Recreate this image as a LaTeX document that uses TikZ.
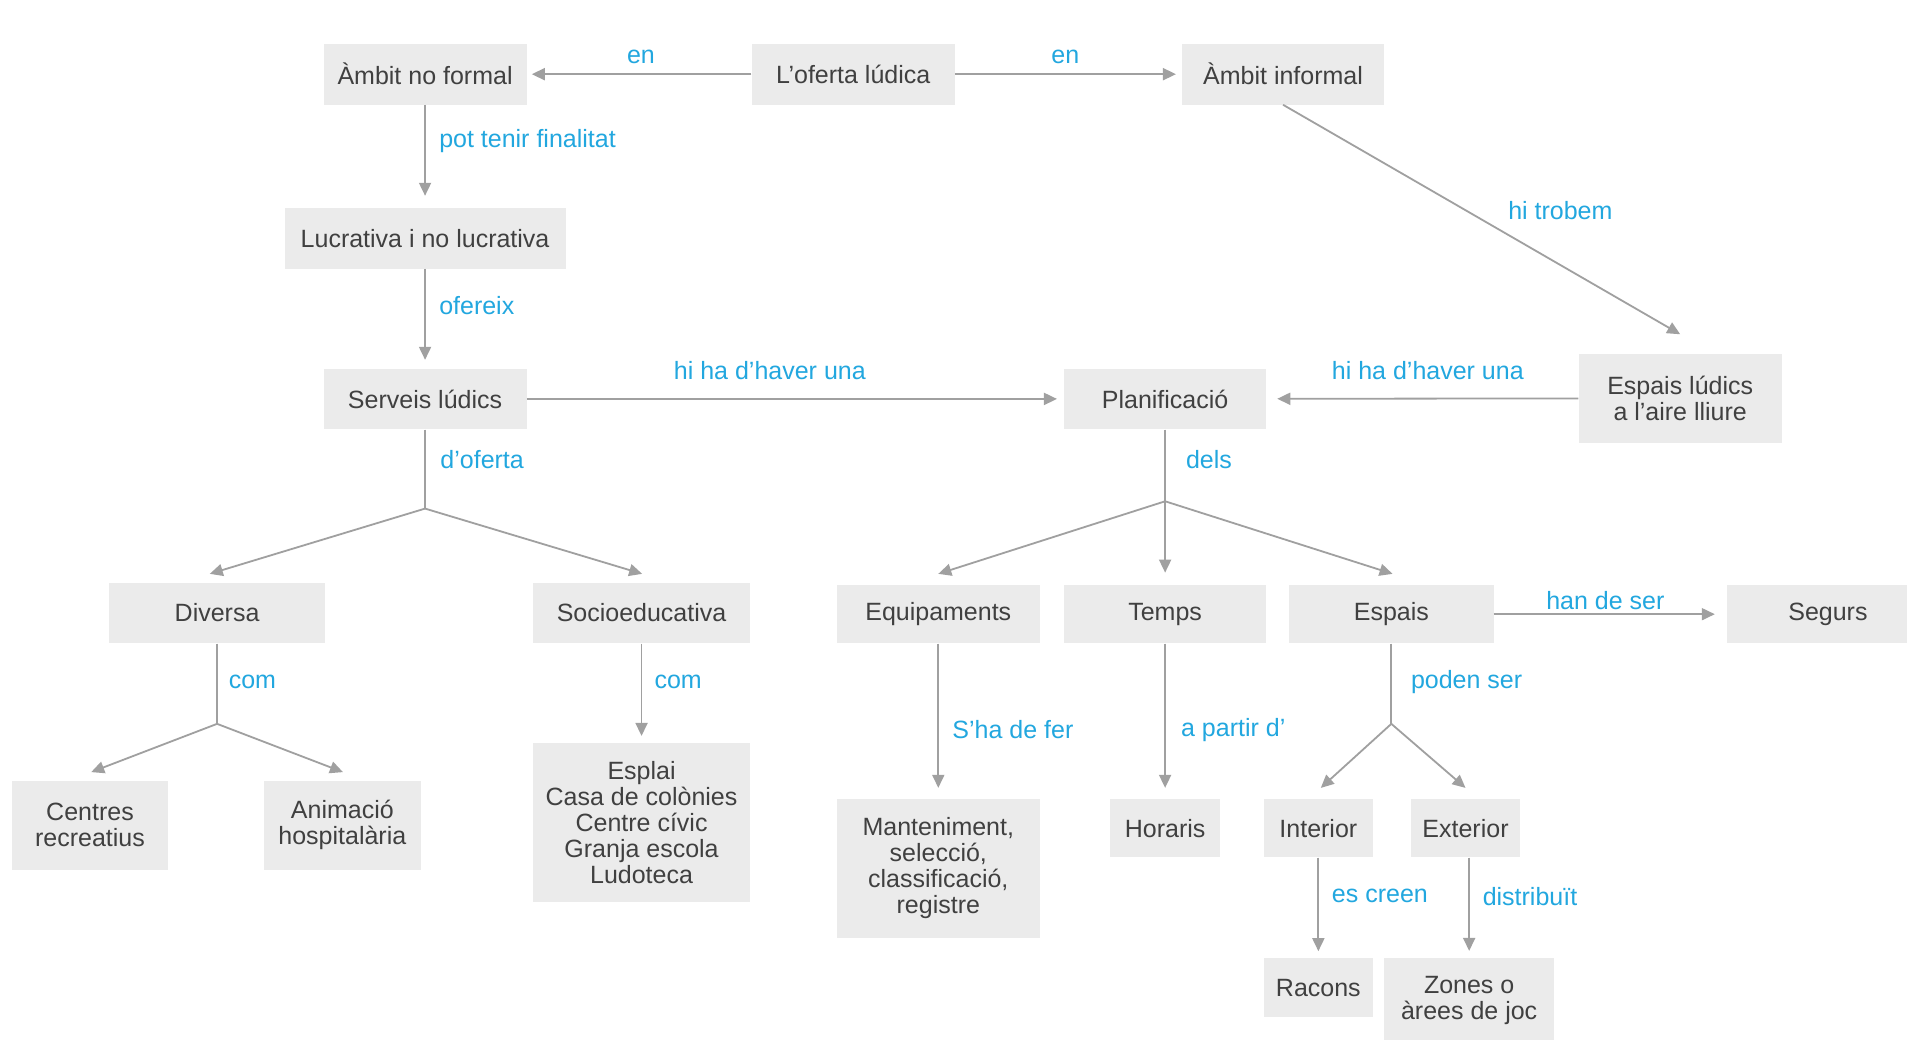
\documentclass[tikz,border=0pt]{standalone}
\usepackage{fontspec}
\setmainfont{Liberation Sans}
\usetikzlibrary{arrows.meta,calc}
\definecolor{boxfill}{HTML}{EBEBEB}
\definecolor{boxtext}{HTML}{404040}
\definecolor{lblcol}{HTML}{22A7DF}
\definecolor{linecol}{HTML}{A0A0A0}
\begin{document}
\begin{tikzpicture}[x=1.2162pt,y=-1.2162pt,
 bx/.style 2 args={fill=boxfill, text=boxtext, inner sep=0pt, minimum width=#1*1.2162pt, minimum height=#2*1.2162pt, align=center, font=\fontsize{25}{26}\selectfont},
 lbl/.style={text=lblcol, inner sep=0pt, font=\fontsize{25}{26}\selectfont},
 conn/.style={draw=linecol, line width=1.8pt},
 arr/.style={conn, -{Triangle[length=13pt,width=12pt]}, color=linecol}]
\fill[white] (0,0) rectangle (1568,855);
\useasboundingbox (0,0) rectangle (1568,855);

% nodes
\node[bx={167}{50}] (nf) at (349.5,61) {Àmbit no formal};
\node[bx={167}{50}] (of) at (701.5,61) {L’oferta lúdica};
\node[bx={166}{50}] (inf) at (1055,61) {Àmbit informal};
\node[bx={231}{50}] (luc) at (349.5,196) {Lucrativa i no lucrativa};
\node[bx={167}{50}] (serv) at (349.5,328) {Serveis lúdics};
\node[bx={166}{50}] (plan) at (958,328) {Planificació};
\node[bx={167}{73}] (lud) at (1381.5,327.5) {Espais lúdics\\a l’aire lliure};
\node[bx={177}{50}] (div) at (178.5,504) {Diversa};
\node[bx={179}{50}] (soc) at (527.5,504) {Socioeducativa};
\node[bx={167}{48}] (equ) at (771.5,505) {Equipaments};
\node[bx={166}{48}] (tmp) at (958,505) {Temps};
\node[bx={168}{48}] (esp) at (1144,505) {Espais};
\node[bx={166}{48}] (seg) at (1503,505) {Segurs};
\node[bx={128}{73}] (cen) at (74,678.5) {Centres\\recreatius};
\node[bx={129}{73}] (ani) at (281.5,678.5) {Animació\\hospitalària};
\node[bx={179}{131}] (esl) at (527.5,676.5) {Esplai\\Casa de colònies\\Centre cívic\\Granja escola\\Ludoteca};
\node[bx={167}{114}] (man) at (771.5,714) {Manteniment,\\selecció,\\classificació,\\registre};
\node[bx={91}{48}] (hor) at (958,681) {Horaris};
\node[bx={90}{48}] (int) at (1084,681) {Interior};
\node[bx={90}{48}] (ext) at (1205,681) {Exterior};
\node[bx={90}{48}] (rac) at (1084,812) {Racons};
\node[bx={140}{69}] (zon) at (1208,822.5) {Zones o\\àrees de joc};

% connectors
\draw[arr, shorten >=5pt] (of) -- (nf);
\draw[arr, shorten >=6pt] (of) -- (inf);
\draw[arr, shorten >=12pt] (nf) -- (luc);
\draw[arr, shorten >=8.5pt] (luc) -- (serv);
\draw[arr, shorten >=7pt] (serv) -- (plan);
\draw[arr, shorten >=11pt] (lud) -- (plan);
\draw[arr] (inf.south) -- ($(lud.north)+(0,-16)$);
\draw[arr, shorten >=12pt] (esp) -- (seg);

\coordinate (jserv) at ($(serv.south)+(0,65)$);
\draw[conn] (serv) -- (jserv);
\draw[arr] (jserv) -- ($(div.north)+(-6,-7)$);
\draw[arr] (jserv) -- ($(soc.north)+(0.5,-7)$);

\coordinate (jplan) at ($(plan.south)+(0,59)$);
\draw[conn] (plan) -- (jplan);
\draw[arr] (jplan) -- ($(equ.north)+(0,-9)$);
\draw[arr] (jplan) -- ($(tmp.north)+(0,-10)$);
\draw[arr] (jplan) -- ($(esp.north)+(1,-9)$);

\coordinate (jdiv) at ($(div.south)+(0,66)$);
\draw[conn] (div) -- (jdiv);
\draw[arr] (jdiv) -- ($(cen.north)+(1,-7)$);
\draw[arr] (jdiv) -- ($(ani.north)+(0.5,-7)$);

\draw[arr, shorten >=7pt] (soc) -- (esl);
\draw[arr, shorten >=11pt] (equ) -- (man);
\draw[arr, shorten >=11pt] (tmp) -- (hor);

\coordinate (jesp) at ($(esp.south)+(0,66)$);
\draw[conn] (esp) -- (jesp);
\draw[arr] (jesp) -- ($(int.north)+(2,-9)$);
\draw[arr] (jesp) -- ($(ext.north)+(0,-9)$);

\draw[arr, shorten >=7pt] (int) -- (rac);
\draw[arr] (ext.south -| zon.north) -- ($(zon.north)+(0,-6)$);

% labels
\node[lbl] (l1) at (527,47) {en};
\node[lbl] (l2) at (876,47) {en};
\node[lbl, anchor=west] (l3) at (361,116) {pot tenir finalitat};
\node[lbl, anchor=west] (l4) at (361,251) {ofereix};
\node[lbl] (l5) at (633,305) {hi ha d’haver una};
\node[lbl] (l6) at (1174,305) {hi ha d’haver una};
\node[lbl] (l7) at (1283,173) {hi trobem};
\node[lbl, anchor=west] (l8) at (362,378) {d’oferta};
\node[lbl, anchor=west] (l9) at (975,378) {dels};
\node[lbl, anchor=west] (l10) at (188,561) {com};
\node[lbl, anchor=west] (l11) at (538,561) {com};
\node[lbl, anchor=west] (l12) at (783,600) {S’ha de fer};
\node[lbl, anchor=west] (l13) at (971,600) {a partir d’};
\node[lbl] (l14) at (1320,494) {han de ser};
\node[lbl, anchor=west] (l15) at (1160,561) {poden ser};
\node[lbl, anchor=west] (l16) at (1095,737) {es creen};
\node[lbl, anchor=west] (l17) at (1219,737) {distribuït};
\end{tikzpicture}
\end{document}
